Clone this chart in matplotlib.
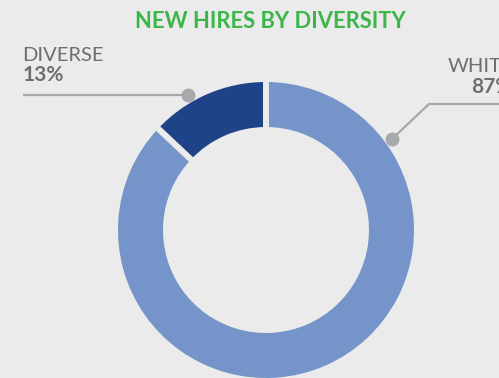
import matplotlib.pyplot as plt

# New hires split by diversity
groups = ['DIVERSE', 'WHITE']
shares = [13, 87]
colors = ['#1e4388', '#7595ca']

bg = '#eaebea'
grey_text = '#6d6e70'
grey_line = '#a7a8aa'

W, H = 499, 378
fig = plt.figure(figsize=(W / 100, H / 100), dpi=100, facecolor=bg)
ax = fig.add_axes([0, 0, 1, 1])
ax.set_facecolor(bg)

# work in pixel-like units, y measured from the top
cx, cy = 266, H - 230
ax.pie(shares, colors=colors, startangle=90, counterclock=True,
       center=(cx, cy), radius=151,
       wedgeprops=dict(width=51, edgecolor=bg, linewidth=4.3))
ax.set_xlim(0, W)
ax.set_ylim(0, H)
ax.set_aspect('equal')
ax.axis('off')

fig.text(0.541, 1 - 21 / H, 'NEW HIRES BY DIVERSITY', ha='center', va='center',
         color='#3cb54a', fontsize=15.8, fontweight='bold', family='Lato')

# diverse label and leader
ax.plot([23, 188], [H - 95, H - 95], color=grey_line, lw=1.6, solid_capstyle='butt')
ax.plot(188, H - 95, 'o', color=grey_line, ms=9)
ax.text(22, H - 61, groups[0], ha='left', va='baseline', color=grey_text,
        fontsize=14.5, fontweight='normal', family='Lato')
ax.text(23, H - 81, f'{shares[0]}%', ha='left', va='baseline', color=grey_text,
        fontsize=15, fontweight='bold', family='Lato')

# white label and leader
ax.plot([392, 429, W], [H - 139, H - 104, H - 104], color=grey_line, lw=1.6)
ax.plot(392, H - 139, 'o', color=grey_line, ms=9)
ax.text(513, H - 72, groups[1], ha='right', va='baseline', color=grey_text,
        fontsize=14.5, fontweight='normal', family='Lato', clip_on=False)
ax.text(513, H - 93, f'{shares[1]}%', ha='right', va='baseline', color=grey_text,
        fontsize=15, fontweight='bold', family='Lato', clip_on=False)

fig.savefig('out.png', dpi=100, facecolor=bg)
